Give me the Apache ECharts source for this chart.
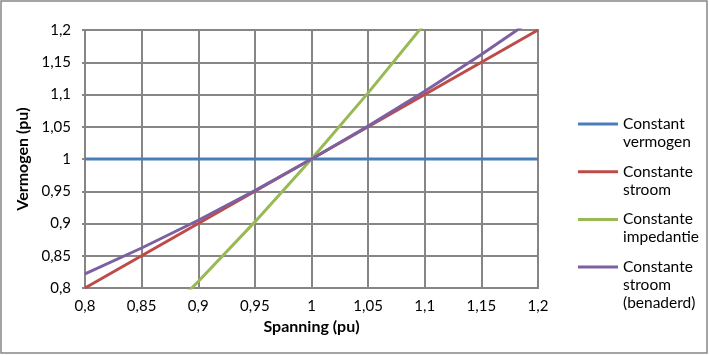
<!DOCTYPE html>
<html>
<head>
<meta charset="utf-8">
<script src="https://cdn.jsdelivr.net/npm/echarts@6/dist/echarts.min.js"></script>
<style>
html,body{margin:0;padding:0;background:#fff;}
#chart{width:709px;height:355px;}
</style>
</head>
<body>
<div id="chart"></div>
<script>
const spanning = [0.8, 0.85, 0.9, 0.95, 1, 1.05, 1.1, 1.15, 1.2];
const constantVermogen = [1, 1, 1, 1, 1, 1, 1, 1, 1];
const constanteStroom = [0.8, 0.85, 0.9, 0.95, 1, 1.05, 1.1, 1.15, 1.2];
const constanteImpedantie = [0.64, 0.7225, 0.81, 0.9025, 1, 1.1025, 1.21, 1.3225, 1.44];
const constanteStroomBenaderd = [0.822, 0.862, 0.905, 0.951, 1, 1.051, 1.105, 1.162, 1.222];
const seriesNames = ['Constant\nvermogen', 'Constante\nstroom', 'Constante\nimpedantie', 'Constante\nstroom\n(benaderd)'];
const seriesColors = ['#4a7ebb', '#be4b48', '#98b954', '#7d60a0'];
const seriesValues = [constantVermogen, constanteStroom, constanteImpedantie, constanteStroomBenaderd];

const FONT = 'Lato';
const chart = echarts.init(document.getElementById('chart'));
const fmt = v => String(Math.round(v * 100) / 100).replace('.', ',');

chart.setOption({
  animation: false,
  textStyle: {fontFamily: FONT},
  graphic: [{
    type: 'rect', shape: {x: 1, y: 1, width: 706, height: 352},
    style: {fill: 'none', stroke: '#868686', lineWidth: 1.5}, z: -10
  }],
  grid: {left: 85, right: 171, top: 30, bottom: 67, show: true, borderColor: '#868686', borderWidth: 2},
  legend: {
    orient: 'vertical', left: 573, top: 74, height: 280, itemGap: -42.3,
    itemWidth: 40, itemHeight: 3, icon: 'rect',
    textStyle: {fontFamily: FONT, fontSize: 15.5, lineHeight: 18, color: '#000'},
    formatter: name => {
      const lines = name.split('\n').length;
      // pad so that the first text line sits level with the legend line
      return '\n\n' + name + '\n'.repeat(3 - lines);
    },
    data: seriesNames
  },
  xAxis: {
    type: 'value', min: 0.8, max: 1.2, interval: 0.05,
    name: 'Spanning (pu)', nameLocation: 'middle', nameGap: 31,
    nameTextStyle: {fontFamily: FONT, fontSize: 16, fontWeight: 'bold', color: '#000'},
    axisLine: {show: true, lineStyle: {color: '#868686', width: 2}},
    axisTick: {show: false},
    axisLabel: {margin: 11, fontSize: 15, color: '#000', fontFamily: FONT, formatter: fmt},
    splitLine: {show: true, lineStyle: {color: '#868686', width: 2}}
  },
  yAxis: {
    type: 'value', min: 0.8, max: 1.2, interval: 0.05,
    name: 'Vermogen (pu)', nameLocation: 'middle', nameGap: 46,
    nameTextStyle: {fontFamily: FONT, fontSize: 16, fontWeight: 'bold', color: '#000'},
    axisLine: {show: true, lineStyle: {color: '#868686', width: 2}},
    axisTick: {show: true, length: 3, lineStyle: {color: '#868686', width: 2}},
    axisLabel: {margin: 14, fontSize: 15, color: '#000', fontFamily: FONT, formatter: fmt},
    splitLine: {show: true, lineStyle: {color: '#868686', width: 2}}
  },
  series: seriesNames.map((n, i) => ({
    name: n, type: 'line', showSymbol: false, symbol: 'none', clip: true,
    data: spanning.map((x, j) => [x, seriesValues[i][j]]),
    lineStyle: {color: seriesColors[i], width: 3},
    itemStyle: {color: seriesColors[i]}
  }))
});
</script>
</body>
</html>
